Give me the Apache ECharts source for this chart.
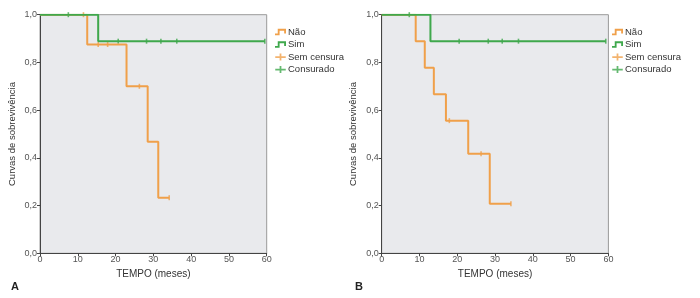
<!DOCTYPE html>
<html><head><meta charset="utf-8">
<script src="https://cdn.jsdelivr.net/npm/echarts@6/dist/echarts.min.js"></script>
<style>html,body{margin:0;padding:0;background:#fff}#c{width:700px;height:298px}</style>
</head><body><div id="c"></div>
<script>
// Panel A
const aNaoT = [0, 12.5, 22.9, 28.5, 31.3, 34.2];
const aNaoS = [1, 0.875, 0.7, 0.467, 0.233, 0.233];
const aNaoCensT = [11.5, 15.4, 17.9, 26.3, 34.2];
const aNaoCensS = [1, 0.875, 0.875, 0.7, 0.233];
const aSimT = [0, 15.4, 59.5];
const aSimS = [1, 0.889, 0.889];
const aSimCensT = [7.5, 20.7, 28.2, 32.0, 36.2, 59.5];
const aSimCensS = [1, 0.889, 0.889, 0.889, 0.889, 0.889];
// Panel B
const bNaoT = [0, 9.0, 11.4, 13.8, 17.0, 22.9, 28.6, 34.2];
const bNaoS = [1, 0.889, 0.778, 0.667, 0.556, 0.417, 0.208, 0.208];
const bNaoCensT = [17.9, 26.3, 34.2];
const bNaoCensS = [0.556, 0.417, 0.208];
const bSimT = [0, 12.9, 59.3];
const bSimS = [1, 0.889, 0.889];
const bSimCensT = [7.3, 20.5, 28.2, 31.9, 36.2, 59.3];
const bSimCensS = [1, 0.889, 0.889, 0.889, 0.889, 0.889];

const legendNames = ['Não', 'Sim', 'Sem censura', 'Consurado'];
const xTitle = 'TEMPO (meses)';
const yTitle = 'Curvas de sobrevivência';
const panelLabels = ['A', 'B'];

const ORANGE = '#f0a04a';
const GREEN = '#3fa84c';
const FONT = 'Liberation Sans';
const zip = (t, s) => t.map((v, i) => [v, s[i]]);
const stepIcon = 'path://M0,6H3V1H12V6H10V3H5V8H0Z';
const censIcon = 'path://M0,4H12V6H0Z M5,1H7V9H5Z';

function axes(gi) {
  return {
    x: {
      type: 'value', gridIndex: gi, min: 0, max: 60, interval: 10,
      name: xTitle, nameLocation: 'middle', nameGap: 16,
      nameTextStyle: { fontFamily: FONT, fontSize: 10, color: '#333' },
      axisLine: { show: true, lineStyle: { color: '#444', width: 1 } },
      axisTick: { show: true, length: 3, lineStyle: { color: '#444' } },
      axisLabel: { fontFamily: FONT, fontSize: 9, color: '#555', margin: 2 },
      splitLine: { show: false }
    },
    y: {
      type: 'value', gridIndex: gi, min: 0, max: 1, interval: 0.2,
      name: yTitle, nameLocation: 'middle', nameGap: 23, nameRotate: 90,
      nameTextStyle: { fontFamily: FONT, fontSize: 9.5, color: '#333' },
      axisLine: { show: true, lineStyle: { color: '#444', width: 1 } },
      axisTick: { show: true, length: 3, lineStyle: { color: '#444' } },
      axisLabel: { fontFamily: FONT, fontSize: 9, color: '#555', margin: 3,
        formatter: v => v.toFixed(1).replace('.', ',') },
      splitLine: { show: false }
    }
  };
}
const A = axes(0), B = axes(1);

function seriesFor(gi, naoT, naoS, naoCT, naoCS, simT, simS, simCT, simCS) {
  const lineBase = { type: 'line', step: 'end', xAxisIndex: gi, yAxisIndex: gi, showSymbol: false, symbol: 'none', animation: false, silent: true };
  const scBase = { type: 'scatter', xAxisIndex: gi, yAxisIndex: gi, symbol: 'rect', symbolSize: [1.6, 5], animation: false, silent: true };
  return [
    Object.assign({}, lineBase, { name: legendNames[0], data: zip(naoT, naoS), lineStyle: { color: ORANGE, width: 2 }, itemStyle: { color: ORANGE } }),
    Object.assign({}, scBase, { name: legendNames[2], data: zip(naoCT, naoCS), itemStyle: { color: ORANGE } }),
    Object.assign({}, lineBase, { name: legendNames[1], data: zip(simT, simS), lineStyle: { color: GREEN, width: 2 }, itemStyle: { color: GREEN } }),
    Object.assign({}, scBase, { name: legendNames[3], data: zip(simCT, simCS), itemStyle: { color: GREEN } })
  ];
}

function legendAt(left, gi) {
  return {
    left: left, top: 25, orient: 'vertical', itemWidth: 11, itemHeight: 7, itemGap: 2.5, padding: 2,
    textStyle: { fontFamily: FONT, fontSize: 9.5, color: '#333', padding: [0, 0, 0, -3] },
    data: [
      { name: legendNames[0], icon: stepIcon, itemStyle: { color: ORANGE } },
      { name: legendNames[1], icon: stepIcon, itemStyle: { color: GREEN } },
      { name: legendNames[2], icon: censIcon, itemStyle: { color: ORANGE } },
      { name: legendNames[3], icon: censIcon, itemStyle: { color: GREEN } }
    ],
    selectedMode: false
  };
}

const chart = echarts.init(document.getElementById('c'), null, { renderer: 'canvas' });
chart.setOption({
  animation: false,
  grid: [
    { left: 40, top: 14.7, width: 226.7, height: 238.6, show: true, backgroundColor: '#e9eaed', borderColor: '#9a9a9a', borderWidth: 1 },
    { left: 381.7, top: 14.7, width: 226.7, height: 238.6, show: true, backgroundColor: '#e9eaed', borderColor: '#9a9a9a', borderWidth: 1 }
  ],
  xAxis: [A.x, B.x],
  yAxis: [A.y, B.y],
  legend: [legendAt(273, 0), legendAt(610, 1)],
  graphic: [
    { type: 'text', left: 11, top: 281, style: { text: panelLabels[0], font: 'bold 11px "Liberation Sans"', fill: '#222' } },
    { type: 'text', left: 355, top: 281, style: { text: panelLabels[1], font: 'bold 11px "Liberation Sans"', fill: '#222' } }
  ],
  series: [].concat(
    seriesFor(0, aNaoT, aNaoS, aNaoCensT, aNaoCensS, aSimT, aSimS, aSimCensT, aSimCensS),
    seriesFor(1, bNaoT, bNaoS, bNaoCensT, bNaoCensS, bSimT, bSimS, bSimCensT, bSimCensS)
  )
});
</script></body></html>
